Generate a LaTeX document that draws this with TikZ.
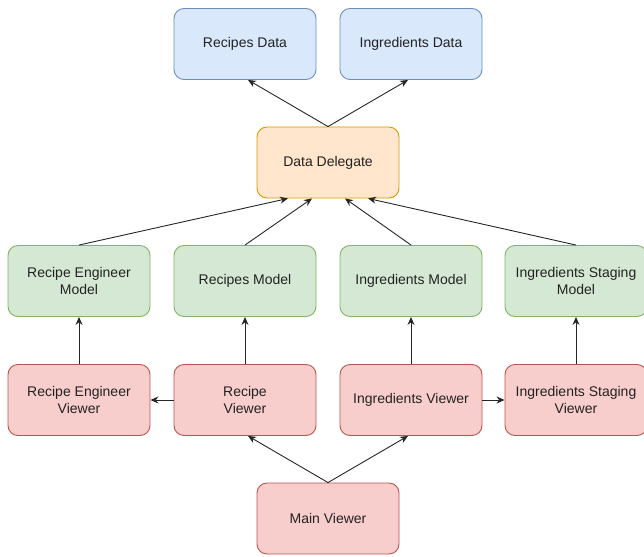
\documentclass[tikz,border=0pt]{standalone}
\usepackage{fontspec}
\setmainfont{Liberation Sans}
\usepackage{tikz}
\usetikzlibrary{arrows.meta,calc}

\definecolor{datafill}{HTML}{DAE8FC}
\definecolor{dataline}{HTML}{6C8EBF}
\definecolor{delegfill}{HTML}{FFE6CC}
\definecolor{delegline}{HTML}{D79B00}
\definecolor{modelfill}{HTML}{D5E8D4}
\definecolor{modelline}{HTML}{82B366}
\definecolor{viewfill}{HTML}{F8CECC}
\definecolor{viewline}{HTML}{B85450}
\definecolor{txt}{HTML}{222222}

\begin{document}
\begin{tikzpicture}[x=1pt, y=-1pt,
    box/.style={draw, line width=0.9pt, rounded corners=10pt, minimum width=142pt,
        minimum height=71pt, align=center, text=txt,
        font=\fontsize{14}{16.5}\selectfont},
    databox/.style={box, fill=datafill, draw=dataline},
    delegbox/.style={box, fill=delegfill, draw=delegline},
    modelbox/.style={box, fill=modelfill, draw=modelline},
    viewbox/.style={box, fill=viewfill, draw=viewline},
    arr/.style={-{Stealth[length=8pt,width=7pt]}, line width=0.9pt, draw=black!85}]
    \useasboundingbox (0, 0) rectangle (644, 556);

    % Data
    \node[databox] (rd) at (245, 44) {Recipes Data};
    \node[databox] (id) at (411, 44) {Ingredients Data};

    % Delegate
    \node[delegbox] (dd) at (328, 162.5) {Data Delegate};

    % Models
    \node[modelbox] (rem) at (79, 281) {Recipe Engineer\\Model};
    \node[modelbox] (rm) at (245, 281) {Recipes Model};
    \node[modelbox] (im) at (411, 281) {Ingredients Model};
    \node[modelbox] (ism) at (576, 281) {Ingredients Staging\\Model};

    % Viewers
    \node[viewbox] (rev) at (79, 400) {Recipe Engineer\\Viewer};
    \node[viewbox] (rv) at (245, 400) {Recipe\\Viewer};
    \node[viewbox] (iv) at (411, 400) {Ingredients Viewer};
    \node[viewbox] (isv) at (576, 400) {Ingredients Staging\\Viewer};
    \node[viewbox] (mv) at (328, 518.5) {Main Viewer};

    % Delegate to data
    \draw[arr] (dd.north) -- ($(rd.south)+(3, 0)$);
    \draw[arr] (dd.north) -- ($(id.south)+(-3, 0)$);

    % Models to delegate
    \draw[arr] (rem.north) -- ($(dd.south)+(-40, 0)$);
    \draw[arr] (rm.north) -- ($(dd.south)+(-16, 0)$);
    \draw[arr] (im.north) -- ($(dd.south)+(17, 0)$);
    \draw[arr] (ism.north) -- ($(dd.south)+(40, 0)$);

    % Viewers to models
    \draw[arr] (rev) -- (rem);
    \draw[arr] (rv) -- (rm);
    \draw[arr] (iv) -- (im);
    \draw[arr] (isv) -- (ism);
    \draw[arr] (rv) -- (rev);
    \draw[arr] (iv) -- (isv);

    % Main viewer
    \draw[arr] (mv.north) -- ($(rv.south)+(3, 0)$);
    \draw[arr] (mv.north) -- ($(iv.south)+(-3, 0)$);
\end{tikzpicture}
\end{document}
